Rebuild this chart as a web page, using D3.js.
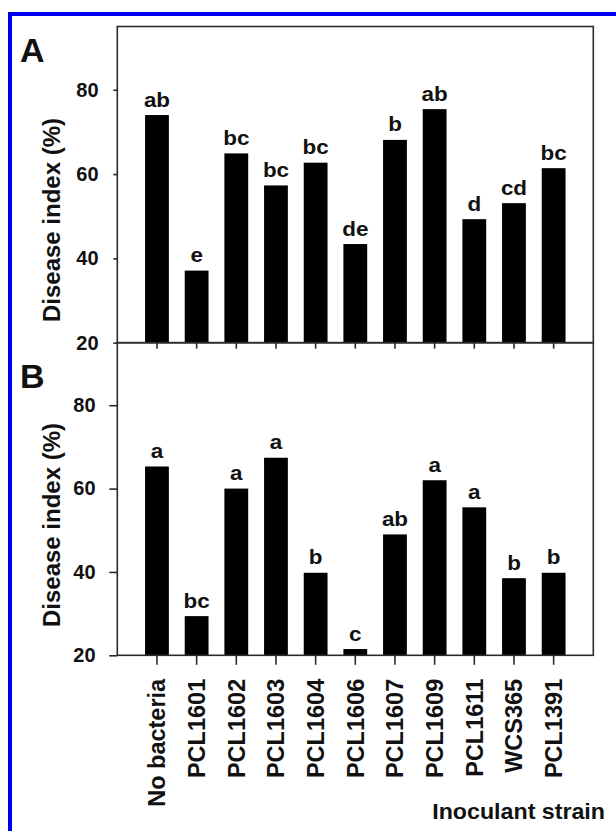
<!DOCTYPE html>
<html lang="en">
<head>
<meta charset="UTF-8">
<title>Disease index by inoculant strain</title>
<script src="https://d3js.org/d3.v7.min.js"></script>
<style>
  body { margin: 0; background: #fff; }
  svg text { font-family: "Liberation Sans", Arial, sans-serif; font-weight: bold; fill: #111; }
</style>
</head>
<body>
<div id="chart"></div>
<script>
// values
const strains = ["No bacteria", "PCL1601", "PCL1602", "PCL1603", "PCL1604", "PCL1606",
                 "PCL1607", "PCL1609", "PCL1611", "WCS365", "PCL1391"];
const diseaseA = [74.0, 37.1, 64.9, 57.3, 62.7, 43.4, 68.1, 75.4, 49.3, 53.1, 61.4];
const lettersA = ["ab", "e", "bc", "bc", "bc", "de", "b", "ab", "d", "cd", "bc"];
const diseaseB = [65.3, 29.4, 60.0, 67.4, 39.8, 21.5, 49.0, 62.0, 55.5, 38.5, 39.8];
const lettersB = ["a", "bc", "a", "a", "b", "c", "ab", "a", "a", "b", "b"];
const yTicks = [20, 40, 60, 80];
const yDomain = [20, 95];

const width = 616, height = 831;
const left = 117.3, right = 593.3;

const svg = d3.select("#chart").append("svg")
    .attr("width", width)
    .attr("height", height);

svg.append("rect").attr("width", width).attr("height", height).attr("fill", "#fff");

// blue border (only left and top are visible in the crop)
svg.append("path")
    .attr("d", `M10,${height} V14 H${width}`)
    .attr("fill", "none")
    .attr("stroke", "#0000f0")
    .attr("stroke-width", 4);

const x = d3.scaleBand()
    .domain(strains)
    .range([left, right])
    .paddingInner(0.4)
    .paddingOuter(0.7);

const panels = [
    { name: "A", top: 26.5, bottom: 342.7, values: diseaseA, letters: lettersA,
      yTick: 4, yPad: 14.8, xTick: 6, nameY: 62, titleY: 220 },
    { name: "B", top: 342.7, bottom: 655.3, values: diseaseB, letters: lettersB,
      yTick: 8, yPad: 13.8, xTick: 9.5, nameY: 387.5, titleY: 525 }
];

panels.forEach(function(p, pi) {
    const y = d3.scaleLinear().domain(yDomain).range([p.bottom, p.top]);
    const g = svg.append("g");

    // bars
    g.selectAll("rect.bar")
        .data(p.values)
        .enter().append("rect")
        .attr("class", "bar")
        .attr("x", (d, i) => x(strains[i]))
        .attr("y", d => y(d))
        .attr("width", x.bandwidth())
        .attr("height", d => y(yDomain[0]) - y(d))
        .attr("fill", "#000");

    // significance letters
    g.selectAll("text.sig")
        .data(p.values)
        .enter().append("text")
        .attr("class", "sig")
        .attr("text-anchor", "middle")
        .attr("font-size", 19.5)
        .attr("transform", (d, i) =>
            `translate(${x(strains[i]) + x.bandwidth() / 2},${y(d) - 8.5}) scale(1.15,1)`)
        .text((d, i) => p.letters[i]);

    // frame
    g.append("rect")
        .attr("x", left)
        .attr("y", p.top)
        .attr("width", right - left)
        .attr("height", p.bottom - p.top)
        .attr("fill", "none")
        .attr("stroke", "#2a2a2a")
        .attr("stroke-width", 1.6);

    // y axis
    const yAxis = g.append("g")
        .attr("transform", `translate(${left},0)`)
        .call(d3.axisLeft(y).tickValues(yTicks).tickSize(p.yTick)
            .tickPadding(p.yPad).tickFormat(d3.format("d")));
    yAxis.select(".domain").remove();
    yAxis.selectAll(".tick line").attr("stroke", "#2a2a2a").attr("stroke-width", 1.6);
    yAxis.selectAll(".tick text").attr("font-size", 20).attr("fill", "#111");

    // x axis ticks
    const xAxis = g.append("g")
        .attr("transform", `translate(0,${p.bottom})`)
        .call(d3.axisBottom(x).tickSize(p.xTick).tickSizeOuter(0));
    xAxis.select(".domain").remove();
    xAxis.selectAll(".tick line").attr("stroke", "#2a2a2a").attr("stroke-width", 1.6);
    if (pi === panels.length - 1) {
        xAxis.selectAll(".tick text")
            .attr("font-size", 23.5)
            .attr("fill", "#111")
            .attr("text-anchor", "end")
            .attr("transform", "rotate(-90)")
            .attr("x", -23.5)
            .attr("y", 0)
            .attr("dy", "0.36em");
    } else {
        xAxis.selectAll(".tick text").remove();
    }

    // y title
    g.append("text")
        .attr("text-anchor", "middle")
        .attr("font-size", 24)
        .attr("transform", `translate(60,${p.titleY}) rotate(-90)`)
        .text("Disease index (%)");

    // panel letter
    g.append("text")
        .attr("x", 20)
        .attr("y", p.nameY)
        .attr("font-size", 34)
        .attr("font-weight", "normal")
        .text(p.name);
});

svg.append("text")
    .attr("text-anchor", "end")
    .attr("font-size", 21.5)
    .attr("transform", "translate(605,819) scale(1.08,1)")
    .text("Inoculant strain");
</script>
</body>
</html>
